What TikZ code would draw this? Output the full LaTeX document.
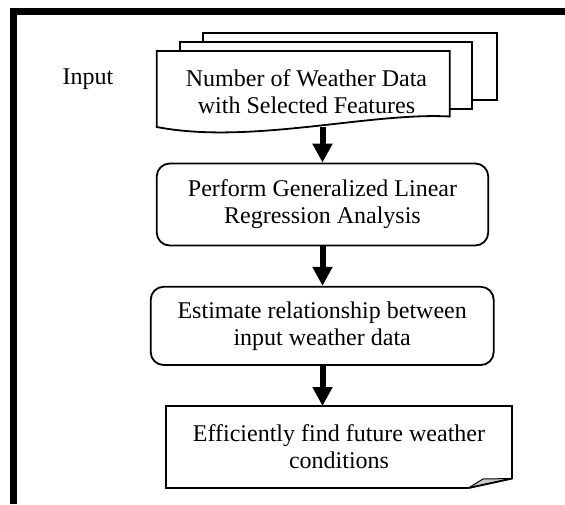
\documentclass[tikz,border=0pt]{standalone}
\usepackage{fontspec}
\setmainfont{Liberation Serif}
\usetikzlibrary{arrows.meta,calc}

\begin{document}
\begin{tikzpicture}[x=1pt,y=-1pt,
  txt/.style={font=\fontsize{24}{27}\selectfont, align=center, inner sep=0pt},
  outline/.style={line width=1.8pt, line join=miter},
  page/.style={outline, draw, fill=white, inner sep=0pt},
  procbox/.style={outline, draw, rounded corners=13pt, inner sep=0pt, txt},
  blank/.style={inner sep=0pt, outer sep=0pt},
  arr/.style={line width=6pt, -{Triangle[width=19pt,length=19pt]}},
  curl/.style={fill=black!20, draw, line width=1pt}
]
\useasboundingbox (0,0) rectangle (565,504);

% heavy frame along the left and top edges
\coordinate (frameBL) at (13.4,504);
\coordinate (frameTL) at (13.4,11.2);
\coordinate (frameTR) at (565,11.2);
\draw[line width=7pt] (frameBL) -- (frameTL) -- (frameTR);

% stacked input documents (back to front)
\node[page, minimum width=293.6pt, minimum height=67pt] (docC) at (349.8,66.5) {};
\node[page, minimum width=292pt, minimum height=67pt] (docB) at (326,75.5) {};
\node[blank, minimum width=292.9pt, minimum height=76pt] (docA) at (303.25,89) {};
\filldraw[outline, fill=white]
  (docA.north west) -- (docA.north east) -- ($(docA.north east)+(0,65.5)$)
  .. controls (370,112) and (250,145) .. (docA.south west) -- cycle;
\node[txt] (docText) at (306.5,92) {Number of Weather Data\\with Selected Features};
\node[txt] (inputLabel) at (88,79) {Input};

% processing steps
\node[procbox, minimum width=331.5pt, minimum height=82pt] (glr) at (322.5,204.5)
  {Perform Generalized Linear\\Regression Analysis};
\node[procbox, minimum width=343pt, minimum height=78.3pt] (est) at (322.2,325.9)
  {Estimate relationship between\\input weather data};

% output document with curled corner
\node[blank, txt, minimum width=346.5pt, minimum height=82pt] (out) at (339,447)
  {Efficiently find future weather\\conditions};
\coordinate (curlA) at ($(out.south east)+(-43.8,0)$);
\coordinate (curlB) at ($(out.south east)+(0,-9.5)$);
\coordinate (curlC) at ($(out.south east)+(-29.3,-9)$);
\draw[outline] (curlA) -- (out.south west) -- (out.north west) -- (out.north east) -- (curlB);
\filldraw[curl] (curlA) -- (curlC) -- (curlB) -- cycle;
\draw[outline] (curlA) -- (curlB);

% flow arrows
\draw[arr] (glr.north |- docA.south) -- (glr.north);
\draw[arr] (glr.south) -- (glr.south |- est.north);
\draw[arr] (glr.south |- est.south) -- (glr.south |- out.north);
\end{tikzpicture}
\end{document}
